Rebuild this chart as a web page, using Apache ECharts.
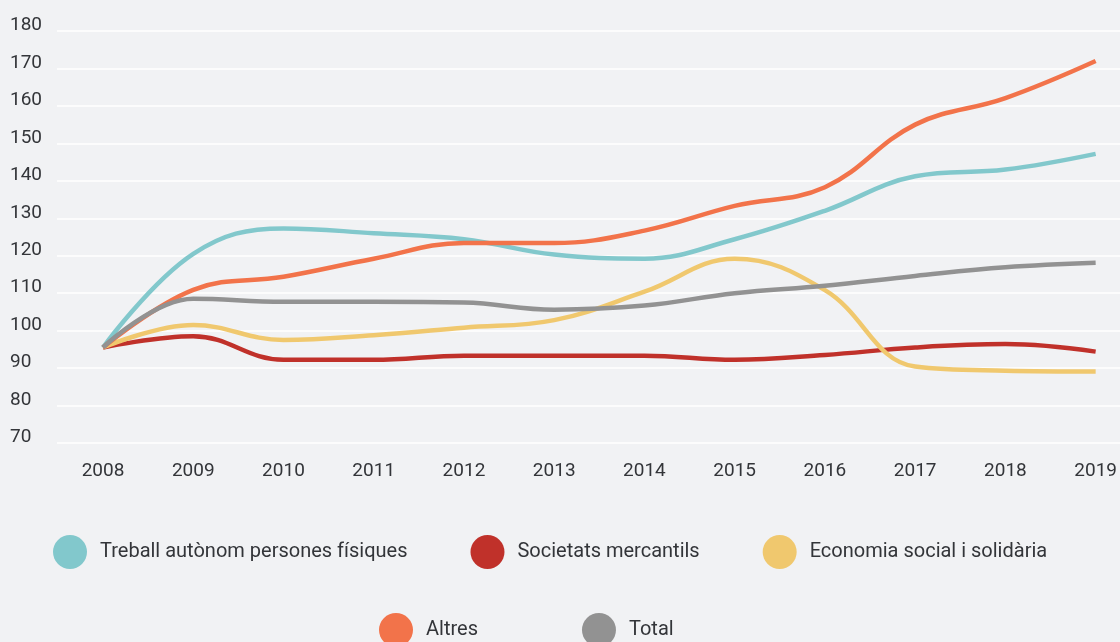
<!DOCTYPE html>
<html>
<head>
<meta charset="utf-8">
<script src="https://cdn.jsdelivr.net/npm/echarts@6/dist/echarts.min.js"></script>
<style>
  html, body { margin: 0; padding: 0; background: #f1f2f4; }
  #chart { width: 1120px; height: 642px; }
</style>
</head>
<body>
<div id="chart"></div>
<script>
var years = ['2008', '2009', '2010', '2011', '2012', '2013', '2014', '2015', '2016', '2017', '2018', '2019'];

var treball    = [95.5, 120.5, 127.3, 126.0, 124.4, 120.3, 119.2, 124.4, 132.0, 141.2, 143.0, 147.2];
var societats  = [95.5, 98.5, 92.2, 92.2, 93.3, 93.3, 93.3, 92.2, 93.5, 95.5, 96.4, 94.4];
var economia   = [95.5, 101.5, 97.5, 98.8, 100.8, 102.8, 110.4, 119.2, 110.8, 90.4, 89.3, 89.1];
var altres     = [95.5, 110.9, 114.4, 119.2, 123.4, 123.4, 126.7, 133.3, 138.3, 155.0, 162.1, 172.0];
var total      = [95.5, 108.5, 107.7, 107.7, 107.5, 105.6, 106.7, 110.0, 112.0, 114.6, 116.9, 118.1];

var yTicks = [70, 80, 90, 100, 110, 120, 130, 140, 150, 160, 170, 180];

var names = ['Treball autònom persones físiques', 'Societats mercantils', 'Economia social i solidària', 'Altres', 'Total'];
var colors = ['#82c8cc', '#c0312a', '#f0c86e', '#f2734a', '#929292'];
var values = [treball, societats, economia, altres, total];

var myChart = echarts.init(document.getElementById('chart'));

// serie de linies
var series = names.map(function (n, i) {
    return {
        name: n,
        type: 'line',
        xAxisIndex: 1,
        yAxisIndex: 1,
        data: values[i],
        smooth: 0.4,
        showSymbol: false,
        symbol: 'none',
        lineStyle: { width: 4.5, color: colors[i] },
        itemStyle: { color: colors[i] }
    };
});

var legendText = { color: '#333539', fontSize: 20, fontFamily: 'Roboto', padding: [0, 0, 0, 0] };

var option = {
    backgroundColor: '#f1f2f4',
    animation: false,
    textStyle: { fontFamily: 'Roboto' },
    grid: [
        { left: 57, right: 0, top: 31, bottom: 199 },
        { left: 103, right: 23, top: 31, bottom: 199 }
    ],
    legend: [
        {
            data: names.slice(0, 3),
            left: 53, top: 535,
            padding: 0,
            icon: 'circle',
            itemWidth: 50, itemHeight: 34,
            itemGap: 63,
            textStyle: legendText
        },
        {
            data: names.slice(3),
            left: 379, top: 613,
            padding: 0,
            icon: 'circle',
            itemWidth: 50, itemHeight: 34,
            itemGap: 104,
            textStyle: legendText
        }
    ],
    xAxis: [
        {
            gridIndex: 0, type: 'category', data: years, show: false
        },
        {
            gridIndex: 1, type: 'category', data: years, boundaryGap: false,
            axisLine: { show: false },
            axisTick: { show: false },
            splitLine: { show: false },
            axisLabel: { color: '#333539', fontSize: 19, margin: 19 }
        }
    ],
    yAxis: [
        {
            gridIndex: 0, type: 'value', min: 70, max: 180, interval: 10,
            axisLine: { show: false },
            axisTick: { show: false },
            splitLine: { lineStyle: { color: '#ffffff', width: 1.5 } },
            axisLabel: {
                color: '#333539', fontSize: 19, align: 'left', margin: 47,
                verticalAlign: 'bottom', lineHeight: 11,
                formatter: function (v) { return yTicks.indexOf(v) >= 0 ? v : ''; }
            }
        },
        {
            gridIndex: 1, type: 'value', min: 70, max: 180, interval: 10, show: false,
            splitLine: { show: false }
        }
    ],
    series: series
};

myChart.setOption(option);
</script>
</body>
</html>
